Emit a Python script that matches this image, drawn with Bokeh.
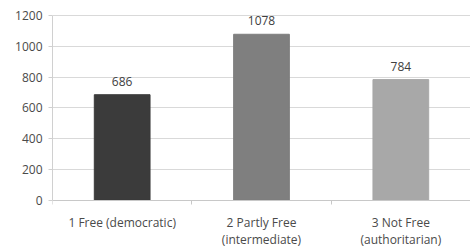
from bokeh.plotting import figure
from bokeh.models import ColumnDataSource, Range1d, FixedTicker, LinearAxis
from bokeh.core.properties import value
from bokeh.embed import file_html
from bokeh.resources import INLINE

positions = [1, 2, 3]
labels = ["1 Free (democratic)", "2 Partly Free\n(intermediate)", "3 Not Free\n(authoritarian)"]
counts = [686, 1078, 784]
colors = ["#3b3b3b", "#7f7f7f", "#a8a8a8"]
y_ticks = [0, 200, 400, 600, 800, 1000, 1200]

src = ColumnDataSource(dict(x=positions, top=counts, color=colors,
                            txt=[str(c) for c in counts], lab=labels,
                            base=[0] * len(positions)))

p = figure(frame_width=418, frame_height=247, output_backend="svg", toolbar_location=None,
           x_range=Range1d(0.5, 3.5), y_range=Range1d(-305, 1297),
           min_border_left=52, min_border_right=0, min_border_top=0, min_border_bottom=0,
           x_axis_location=None)
p.outline_line_color = None
p.background_fill_color = "white"

p.xgrid.grid_line_color = None
p.ygrid.grid_line_color = "#d9d9d9"
p.ygrid.ticker = FixedTicker(ticks=y_ticks)

base_axis = LinearAxis(fixed_location=0, ticker=FixedTicker(ticks=[], minor_ticks=[0.5, 1.5, 2.5, 3.5]))
base_axis.axis_line_color = "#c8c8c8"
base_axis.major_tick_line_color = None
base_axis.minor_tick_line_color = "#c8c8c8"
base_axis.minor_tick_out = 4
base_axis.minor_tick_in = 0
base_axis.major_tick_out = 0
base_axis.major_tick_in = 0
base_axis.major_label_text_font_size = "0px"
base_axis.major_label_standoff = 0
p.add_layout(base_axis, "below")

p.vbar(x="x", top="top", width=0.4, color="color", source=src)
p.text(x="x", y="top", text="txt", source=src, text_align="center", text_baseline="bottom",
       y_offset=-9, text_font=value("Open Sans"), text_font_size="12px", text_color="#404040")
p.text(x="x", y="base", text="lab", source=src, text_align="center", text_baseline="top",
       y_offset=14, text_font=value("Open Sans"), text_font_size="12px", text_color="#4a4a4a",
       text_line_height=1.0)

p.yaxis.ticker = FixedTicker(ticks=y_ticks)
p.yaxis.bounds = (0, 1200)
p.yaxis.axis_line_color = "#d0d0d0"
p.yaxis.major_tick_line_color = "#d0d0d0"
p.yaxis.major_tick_out = 4
p.yaxis.major_tick_in = 0
p.yaxis.minor_tick_line_color = None
p.yaxis.major_label_standoff = 6
p.yaxis.major_label_text_font = "Open Sans"
p.yaxis.major_label_text_font_size = "12px"
p.yaxis.major_label_text_color = "#4a4a4a"

open("out.html", "w").write(file_html(p, INLINE))
